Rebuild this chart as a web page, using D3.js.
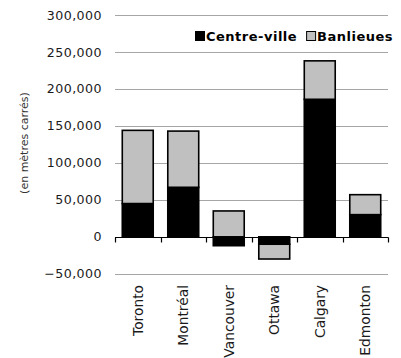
<!DOCTYPE html>
<html>
<head>
<meta charset="utf-8">
<script src="https://cdn.jsdelivr.net/npm/d3@7"></script>
<style>
  html, body { margin: 0; padding: 0; background: #fff; }
  svg { display: block; font-family: Verdana, "DejaVu Sans", sans-serif; }
</style>
</head>
<body>
<svg id="chart" width="401" height="358"></svg>
<script>
// Floor space change by city, split between downtown and suburbs (m²)
const cities = ["Toronto", "Montréal", "Vancouver", "Ottawa", "Calgary", "Edmonton"];
const centreVille = [45000, 67000, -12000, -10000, 186000, 30000];
const banlieues = [99000, 76000, 35000, -20000, 52000, 27000];
const yTicks = [-50000, 0, 50000, 100000, 150000, 200000, 250000, 300000];
const seriesNames = ["Centre-ville", "Banlieues"];
const seriesColors = ["#000000", "#c0c0c0"];

const svg = d3.select("#chart");
const plotLeft = 115, plotRight = 388, plotTop = 15, plotBottom = 273.8;

const x = d3.scaleBand().domain(cities).range([plotLeft, plotRight]).paddingInner(0.32).paddingOuter(0.16);
const y = d3.scaleLinear().domain([-50000, 300000]).range([plotBottom, plotTop]);

// Gridlines
svg.append("g").selectAll("line").data(yTicks.filter(d => d !== 0)).join("line")
  .attr("x1", plotLeft).attr("x2", plotRight)
  .attr("y1", d => Math.round(y(d)) + 0.5).attr("y2", d => Math.round(y(d)) + 0.5)
  .attr("stroke", "#a6a6a6").attr("stroke-width", 1.2);

// Y tick labels
const fmt = d3.format(",");
svg.append("g").selectAll("text").data(yTicks).join("text")
  .attr("x", 102).attr("y", d => y(d))
  .attr("dy", "0.36em")
  .attr("text-anchor", "end")
  .attr("font-size", 12.6)
  .attr("letter-spacing", 0.45)
  .attr("fill", "#1a1a1a")
  .text(d => fmt(d));

// Y axis title
svg.append("text")
  .attr("transform", "translate(28,143) rotate(-90)")
  .attr("text-anchor", "middle")
  .attr("font-size", 11)
  .attr("fill", "#333")
  .text("(en mètres carrés)");

// Stacked bars (positives stack up, negatives stack down)
const rows = cities.map((c, i) => ({ city: c, vals: [centreVille[i], banlieues[i]] }));
const segs = [];
rows.forEach(r => {
  let pos = 0, neg = 0;
  r.vals.forEach((v, k) => {
    let y0, y1;
    if (v >= 0) { y0 = pos; y1 = pos + v; pos = y1; }
    else { y0 = neg; y1 = neg + v; neg = y1; }
    segs.push({ city: r.city, k, y0, y1 });
  });
});
svg.append("g").selectAll("rect").data(segs).join("rect")
  .attr("x", d => x(d.city))
  .attr("width", x.bandwidth())
  .attr("y", d => y(Math.max(d.y0, d.y1)))
  .attr("height", d => Math.abs(y(d.y0) - y(d.y1)))
  .attr("fill", d => seriesColors[d.k])
  .attr("stroke", "#000")
  .attr("stroke-width", 1.6);

// Zero axis line with category tick marks
const zy = Math.round(y(0)) + 0.5;
svg.append("line").attr("x1", plotLeft).attr("x2", plotRight + 0.5).attr("y1", zy).attr("y2", zy)
  .attr("stroke", "#000").attr("stroke-width", 1.2);
const step = (plotRight - plotLeft) / cities.length;
svg.append("g").selectAll("line").data(d3.range(cities.length + 1)).join("line")
  .attr("x1", i => Math.round(plotLeft + i * step) + 0.5)
  .attr("x2", i => Math.round(plotLeft + i * step) + 0.5)
  .attr("y1", zy).attr("y2", zy + 5)
  .attr("stroke", "#000").attr("stroke-width", 1.2);

// Category labels, rotated
svg.append("g").selectAll("text").data(cities).join("text")
  .attr("transform", d => `translate(${x(d) + x.bandwidth() / 2},285) rotate(-90)`)
  .attr("text-anchor", "end")
  .attr("dy", "0.36em")
  .attr("font-size", 13.8)
  .attr("fill", "#1a1a1a")
  .text(d => d);

// Legend
const lg = svg.append("g").attr("transform", "translate(195,36)");
let lx = 0;
seriesNames.forEach((n, k) => {
  lg.append("rect").attr("x", lx + 0.5).attr("y", -4.5).attr("width", 9).attr("height", 9)
    .attr("fill", seriesColors[k]).attr("stroke", "#000").attr("stroke-width", 1);
  const t = lg.append("text").attr("x", lx + 11).attr("y", 0).attr("dy", "0.36em")
    .attr("font-size", 13).attr("letter-spacing", 0.5)
    .attr("font-weight", "bold").attr("fill", "#000").text(n);
  lx += 11 + t.node().getComputedTextLength() + 9;
});
</script>
</body>
</html>
